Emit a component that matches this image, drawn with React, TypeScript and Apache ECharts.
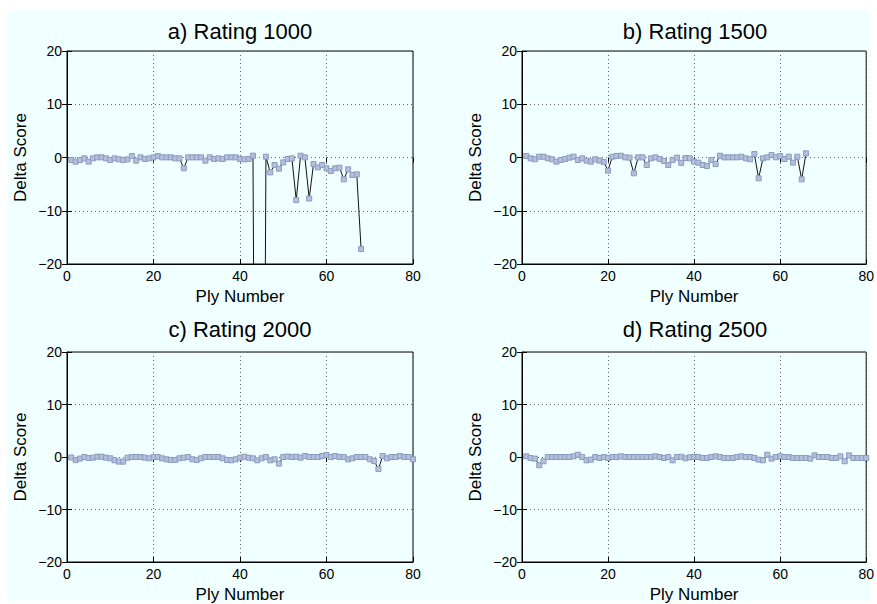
import React, { useEffect, useRef } from "react";
import * as echarts from "echarts";

const panelTitles = ["a) Rating 1000", "b) Rating 1500", "c) Rating 2000", "d) Rating 2500"];
const xTicks = { min: 0, max: 80, interval: 20 };
const yTicks = { min: -20, max: 20, interval: 10 };

// Delta score per ply (ply numbers start at 1)
const rating1000 = [
  -0.47, -0.78, -0.47, -0.16, -0.78, -0.16, 0.03, 0.03, -0.16, -0.47,
  -0.16, -0.34, -0.47, -0.34, 0.28, -0.59, 0.03, -0.28, -0.16, 0.03,
  0.28, 0.03, 0.03, 0.03, -0.16, -0.16, -2.03, 0.03, 0.03, 0.03,
  0.03, -0.59, 0.03, -0.28, -0.16, -0.28, 0.03, 0.03, 0.03, -0.28,
  -0.34, -0.28, 0.34, -150, -150, 0.15, -2.8, -1.41, -2.1, -0.91,
  -0.28, -0.16, -8.0, 0.34, 0.03, -7.7, -1.22, -1.85, -1.41, -2.03,
  -2.54, -2.03, -1.91, -4.1, -2.22, -3.29, -3.16, -17.2,
];
const rating1500 = [
  0.28, -0.16, -0.34, 0.15, 0.15, -0.16, -0.34, -0.78, -0.47, -0.28,
  -0.03, 0.15, -0.47, -0.16, -0.59, -0.78, -0.34, -0.59, -0.84, -2.47,
  0.15, 0.28, 0.34, 0.03, -0.03, -2.97, 0.03, 0.03, -1.41, -0.16,
  0.03, -0.28, -0.66, -1.41, -0.47, -0.03, -1.0, -0.1, -0.16, -0.78,
  -0.97, -1.41, -1.6, -0.47, -1.22, 0.34, 0.03, 0.03, 0.03, 0.03,
  0.15, -0.16, -0.34, 0.65, -3.91, -0.16, 0.03, 0.47, 0.03, 0.28,
  -0.28, 0.15, -0.97, 0.15, -4.1, 0.78,
];
const rating2000 = [
  -0.1, -0.6, -0.3, 0, -0.2, -0.13, 0.06, 0.06, -0.13, -0.25,
  -0.63, -0.88, -0.88, -0.13, 0, 0, 0, -0.13, -0.25, 0,
  0, -0.25, -0.44, -0.56, -0.56, -0.25, -0.13, 0, -0.44, -0.56,
  -0.25, 0, 0, 0, 0, -0.25, -0.56, -0.63, -0.44, -0.13,
  0.06, -0.13, -0.25, -0.63, -0.25, 0, -0.63, -0.44, -1.25, 0,
  0.1, 0, 0.06, -0.13, 0.19, 0, 0, 0, 0.19, 0.38,
  0, 0.19, 0, 0, -0.44, -0.25, 0, 0, 0, -0.44,
  -0.75, -2.3, 0.19, -0.25, 0, 0, 0.19, 0, 0, -0.44,
];
const rating2500 = [
  0.13, -0.19, -0.31, -1.56, -0.81, 0, 0, 0, 0, 0,
  0, 0.13, 0.44, 0, -0.63, -0.5, 0, -0.19, 0, -0.19,
  0, 0, 0.13, 0, 0, 0, 0, 0, 0, 0,
  0.13, 0, -0.19, 0, -0.63, 0, 0.05, -0.25, -0.06, 0,
  0, -0.19, -0.19, 0, 0.13, 0, -0.19, -0.19, -0.19, 0,
  0.13, 0, 0, -0.19, -0.5, -0.63, 0.44, -0.31, 0, 0.13,
  0, 0, -0.19, -0.19, -0.19, -0.19, -0.31, 0.31, 0, 0,
  0, -0.19, -0.19, 0.13, -0.81, 0.31, -0.19, -0.19, -0.19, -0.19,
];
const panelData = [rating1000, rating1500, rating2000, rating2500];

const FONT = "'Liberation Sans', Arial, Helvetica, sans-serif";
const BG = "#F0FFFF";

export default function App() {
  const ref = useRef<HTMLDivElement>(null);
  useEffect(() => {
    if (!ref.current) return;
    const chart = echarts.init(ref.current, undefined, { renderer: "svg" });
    const grids = [
      { left: 67, top: 51 },
      { left: 522, top: 51 },
      { left: 67, top: 352 },
      { left: 522, top: 352 },
    ].map((g) => ({
      ...g,
      width: 346,
      height: 213,
      show: true,
      backgroundColor: BG,
      borderColor: "#000",
      borderWidth: 1,
    }));
    const titleTops = [20, 20, 318, 318];
    const minus = (v: number) => String(v).replace("-", "\u2212");
    const xAxes: any[] = [];
    const yAxes: any[] = [];
    grids.forEach((_, i) => {
      xAxes.push({
        type: "value",
        gridIndex: i,
        ...xTicks,
        position: "bottom",
        name: "Ply Number",
        nameLocation: "middle",
        nameGap: 24,
        nameTextStyle: { fontSize: 17, color: "#000", fontFamily: FONT },
        axisLine: { show: true, onZero: false, lineStyle: { color: "#000", width: 1 } },
        axisTick: { show: true, inside: true, length: 5, lineStyle: { color: "#000" } },
        axisLabel: { fontSize: 14, color: "#000", fontFamily: FONT, margin: 5, formatter: minus },
        splitLine: { show: true, lineStyle: { color: "#666", type: [1, 3], width: 1 } },
      });
      yAxes.push({
        type: "value",
        gridIndex: i,
        ...yTicks,
        position: "left",
        name: "Delta Score",
        nameLocation: "middle",
        nameGap: 38,
        nameRotate: 90,
        nameTextStyle: { fontSize: 17, color: "#000", fontFamily: FONT },
        axisLine: { show: true, onZero: false, lineStyle: { color: "#000", width: 1 } },
        axisTick: { show: true, inside: true, length: 5, lineStyle: { color: "#000" } },
        axisLabel: { fontSize: 14, color: "#000", fontFamily: FONT, margin: 5, formatter: minus },
        splitLine: { show: true, lineStyle: { color: "#666", type: [1, 3], width: 1 } },
      });
    });
    grids.forEach((_, i) => {
      xAxes.push({
        type: "value",
        gridIndex: i,
        ...xTicks,
        position: "top",
        axisLine: { show: false },
        axisTick: { show: true, inside: true, length: 5, lineStyle: { color: "#000" } },
        axisLabel: { show: false },
        splitLine: { show: false },
      });
      yAxes.push({
        type: "value",
        gridIndex: i,
        ...yTicks,
        position: "right",
        axisLine: { show: false },
        axisTick: { show: true, inside: true, length: 5, lineStyle: { color: "#000" } },
        axisLabel: { show: false },
        splitLine: { show: false },
      });
    });
    const titles = panelTitles.map((t, i) => ({
      text: t,
      left: grids[i].left + 173,
      top: titleTops[i],
      padding: 0,
      textAlign: "center",
      textStyle: { fontSize: 22, fontWeight: "normal", color: "#000", fontFamily: FONT },
    }));
    const series = panelData.map((vals, i) => ({
      type: "line",
      xAxisIndex: i,
      yAxisIndex: i,
      data: vals.map((v, k) => [k + 1, v]),
      symbol: "rect",
      symbolSize: 5,
      showAllSymbol: true,
      clip: true,
      lineStyle: { color: "#111", width: 1 },
      itemStyle: { color: "#b3bfdb", borderColor: "#8c9bc0", borderWidth: 1 },
    }));
    chart.setOption({
      animation: false,
      backgroundColor: "#fff",
      textStyle: { fontFamily: FONT },
      graphic: [
        { type: "rect", z: -10, silent: true, shape: { x: 7, y: 10, width: 863, height: 591 }, style: { fill: BG } },
      ],
      title: titles,
      grid: grids,
      xAxis: xAxes,
      yAxis: yAxes,
      series,
    });
    return () => chart.dispose();
  }, []);
  return <div ref={ref} style={{ position: "absolute", left: 0, top: 0, width: 877, height: 604 }} />;
}
